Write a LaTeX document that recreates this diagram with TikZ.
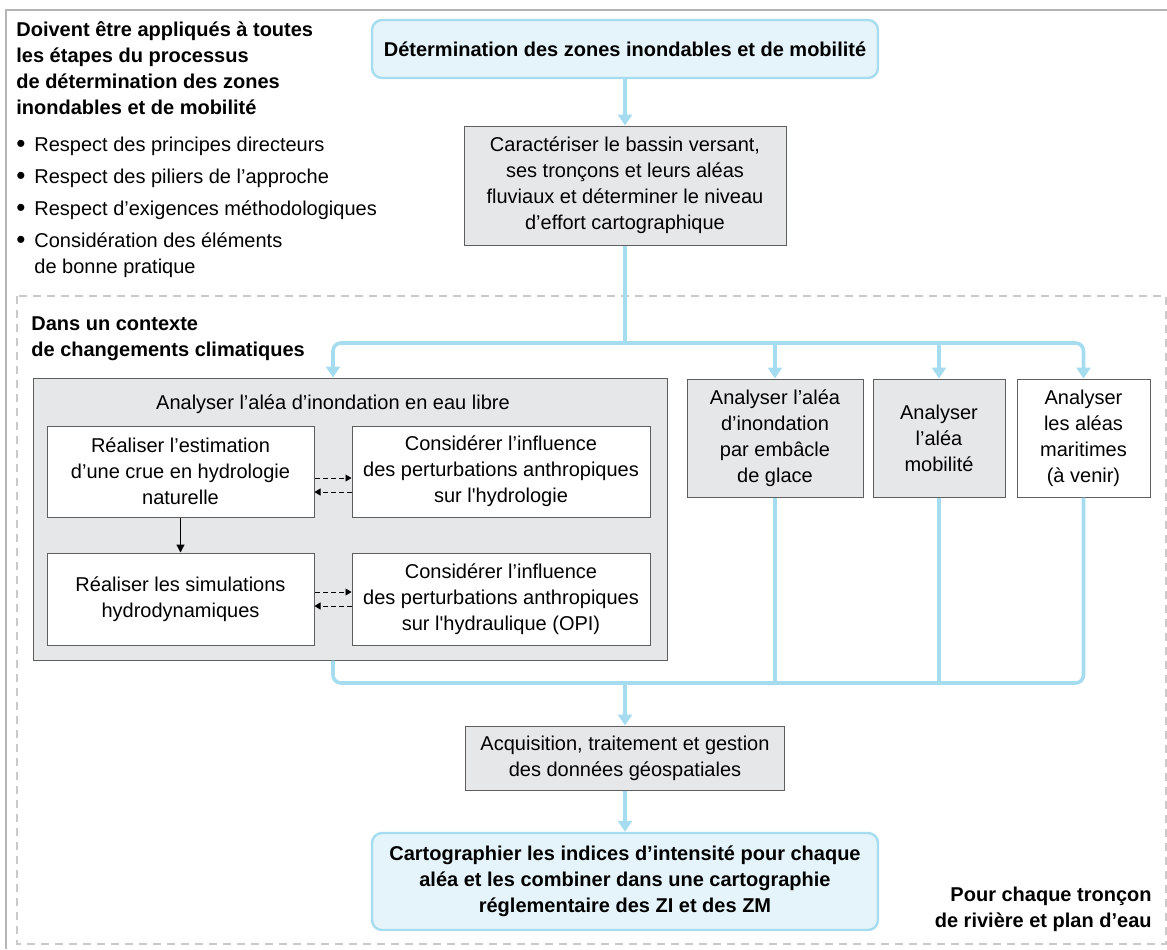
\documentclass[tikz,border=0pt]{standalone}
\usepackage{fontspec}
\setmainfont{Liberation Sans}
\usetikzlibrary{arrows.meta,calc}

\definecolor{flowblue}{HTML}{A6DCF0}
\definecolor{topfill}{HTML}{E4F4FA}
\definecolor{boxgray}{HTML}{E6E7E8}
\definecolor{edgegray}{HTML}{5E5E5E}
\definecolor{framegray}{HTML}{B5B5B5}
\definecolor{dashgray}{HTML}{CACACA}

\newcommand{\puce}{\makebox[9pt][l]{\raisebox{-0.6pt}{\fontsize{13}{13}\selectfont\textbullet}}}

\tikzset{
	txt/.style={inner sep=0pt, font=\fontsize{10}{13}\selectfont},
	boldtxt/.style={inner sep=0pt, font=\fontsize{10}{13}\selectfont\bfseries},
	box/.style={draw=edgegray, line width=0.5pt, fill=boxgray, align=center, inner sep=0pt, font=\fontsize{10}{13}\selectfont},
	whitebox/.style={box, fill=white},
	keybox/.style={box, draw=flowblue, line width=1.2pt, fill=topfill, rounded corners=5pt, font=\fontsize{10}{13}\selectfont\bfseries},
	link/.style={draw=flowblue, line width=1.8pt},
	flowarrow/.style={link, -{Triangle[length=5.5pt,width=7pt]}},
	dasharrow/.style={line width=0.4pt, dash pattern=on 2.5pt off 1.5pt, -{Triangle[length=3pt,width=3.5pt]}},
	steparrow/.style={line width=0.6pt, -{Triangle[length=4pt,width=4pt]}}
}

\begin{document}
\begin{tikzpicture}[x=0.5pt,y=-0.5pt]
			\useasboundingbox (0,0) rectangle (1167,949);
			\draw[framegray, line width=0.8pt] (6,949) -- (6,10) -- (1167,10);
			\draw[dashgray, line width=1pt, dash pattern=on 4pt off 3pt] (17,296) rectangle (1166,944);
			
			\node[boldtxt, anchor=north west, align=left] (regles) at (16,21) {Doivent être appliqués à toutes\\les étapes du processus\\de détermination des zones\\inondables et de mobilité};
			\node[txt, anchor=north west, align=left] (respect) at (16,133) {%
				\begin{tabular}{@{}l@{}l@{}}
				\puce & Respect des principes directeurs\\[3pt]
				\puce & Respect des piliers de l’approche\\[3pt]
				\puce & Respect d’exigences méthodologiques\\[3pt]
				\puce & Considération des éléments\\
				 & de bonne pratique
				\end{tabular}};
			\node[boldtxt, anchor=north west, align=left] (contexte) at (31,316) {Dans un contexte\\de changements climatiques};
			\node[boldtxt, anchor=north east, align=right] (troncon) at (1152,887) {Pour chaque tronçon\\de rivière et plan d’eau};
			
			\node[keybox, minimum width=253pt, minimum height=29pt] (zones) at (625,49) {Détermination des zones inondables et de mobilité};
			\node[box, minimum width=161pt, minimum height=59.5pt] (carac) at (625,185.5) {Caractériser le bassin versant,\\ses tronçons et leurs aléas\\fluviaux et déterminer le niveau\\d’effort cartographique};
			
			\node[box, minimum width=317pt, minimum height=141pt] (libre) at (350,519) {};
			\node[txt] (libretitre) at (333,404) {Analyser l’aléa d’inondation en eau libre};
			\node[whitebox, minimum width=133.5pt, minimum height=45.5pt] (crue) at (180.5,471.5) {Réaliser l’estimation\\d’une crue en hydrologie\\naturelle};
			\node[whitebox, minimum width=149pt, minimum height=45.5pt] (hydrologie) at (501,471.5) {Considérer l’influence\\des perturbations anthropiques\\sur l\textquotesingle hydrologie};
			\node[whitebox, minimum width=133.5pt, minimum height=46pt] (simul) at (180.5,599) {Réaliser les simulations\\hydrodynamiques};
			\node[whitebox, minimum width=149pt, minimum height=46pt] (hydraulique) at (501,599) {Considérer l’influence\\des perturbations anthropiques\\sur l\textquotesingle hydraulique (OPI)};
			
			\node[box, minimum width=88pt, minimum height=59pt] (glace) at (775,438) {Analyser l’aléa\\d’inondation\\par embâcle\\de glace};
			\node[box, minimum width=66pt, minimum height=59pt] (mobil) at (939,438) {Analyser\\l’aléa\\mobilité};
			\node[whitebox, minimum width=66.5pt, minimum height=59pt] (mari) at (1083.5,438) {Analyser\\les aléas\\maritimes\\(à venir)};
			
			\node[box, minimum width=159.5pt, minimum height=32pt] (geo) at (625,758) {Acquisition, traitement et gestion\\des données géospatiales};
			\node[keybox, minimum width=253pt, minimum height=48.5pt] (carto) at (625,881.5) {Cartographier les indices d’intensité pour chaque\\aléa et les combiner dans une cartographie\\réglementaire des ZI et des ZM};
			
			\coordinate (haut) at (625,343);
			\coordinate (bas) at (625,683);
			\draw[flowarrow] (zones) -- (carac);
			\draw[link] (carac) -- (haut);
			\draw[flowarrow, rounded corners=4pt] (haut) -| ([xshift=-8.5pt]libre.north);
			\draw[flowarrow, rounded corners=4pt] (haut) -| (mari.north);
			\draw[flowarrow] (glace.north |- haut) -- (glace);
			\draw[flowarrow] (mobil.north |- haut) -- (mobil);
			\draw[link, rounded corners=4pt] ([xshift=-8.5pt]libre.south) |- (bas) -| (mari.south);
			\draw[link] (glace) -- (glace.south |- bas);
			\draw[link] (mobil) -- (mobil.south |- bas);
			\draw[flowarrow] (bas) -- (geo);
			\draw[flowarrow] (geo) -- (carto);
			
			\draw[steparrow] (crue) -- (simul);
			\draw[dasharrow] ([yshift=-3.25pt]crue.east) -- ([yshift=-3.25pt]hydrologie.west);
			\draw[dasharrow] ([yshift=-10.25pt]hydrologie.west) -- ([yshift=-10.25pt]crue.east);
			\draw[dasharrow] ([yshift=3.5pt]simul.east) -- ([yshift=3.5pt]hydraulique.west);
			\draw[dasharrow] ([yshift=-3.5pt]hydraulique.west) -- ([yshift=-3.5pt]simul.east);
		\end{tikzpicture}
\end{document}
